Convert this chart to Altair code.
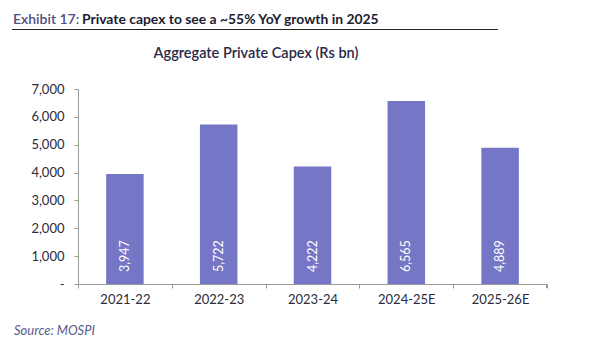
import altair as alt
import pandas as pd

years = ["2021-22", "2022-23", "2023-24", "2024-25E", "2025-26E"]
capex = [3947, 5722, 4222, 6565, 4889]
y_ticks = [0, 1000, 2000, 3000, 4000, 5000, 6000, 7000]

heading_prefix = "Exhibit 17:"
heading_text = "Private capex to see a ~55% YoY growth in 2025"
chart_title = "Aggregate Private Capex (Rs bn)"
source_text = "Source: MOSPI"

df = pd.DataFrame({"year": years, "capex": capex})

FONT = "Lato"
W, H = 469, 195

x_axis = alt.Axis(title=None, tickBand="extent", labelAngle=0,
                  domainColor="#9a9a9a", tickColor="#9a9a9a",
                  tickSize=4, labelFontSize=13, labelColor="#2b2b3b",
                  labelPadding=5, labelFont=FONT)
y_axis = alt.Axis(title=None, values=y_ticks, grid=False, labelOverlap=False,
                  labelExpr="datum.value == 0 ? '-' : format(datum.value, ',')",
                  domainColor="#9a9a9a", tickColor="#9a9a9a",
                  tickSize=4, labelFontSize=13, labelColor="#2b2b3b",
                  labelPadding=10, labelFont=FONT)
x_scale = alt.Scale(paddingInner=0, paddingOuter=0)
y_scale = alt.Scale(domain=[0, 7000], nice=False)

base = alt.Chart(df)

bars = base.mark_bar(color="#7676C6", width=alt.RelativeBandSize(0.4)).encode(
    x=alt.X("year:N", sort=years, scale=x_scale, axis=x_axis),
    y=alt.Y("capex:Q", scale=y_scale, axis=y_axis))

labels = base.mark_text(angle=270, align="left", baseline="middle", dx=12,
                        color="white", fontSize=12.5, font=FONT).encode(
    x=alt.X("year:N", sort=years, scale=x_scale, axis=x_axis),
    y=alt.YDatum(0, type="quantitative", scale=y_scale, axis=y_axis),
    text=alt.Text("capex:Q", format=","))

end_tick = alt.Chart(df).mark_rule(color="#9a9a9a").encode(
    x=alt.value(W), y=alt.value(H), y2=alt.value(H + 4))

head1 = alt.Chart(pd.DataFrame({"t": [heading_prefix]})).mark_text(
    align="left", baseline="alphabetic", fontSize=14, fontWeight=600,
    color="#4d4d80", font=FONT).encode(x=alt.value(13 - 78), y=alt.value(24 - 89), text="t:N")
head2 = alt.Chart(pd.DataFrame({"t": [heading_text]})).mark_text(
    align="left", baseline="alphabetic", fontSize=13.9, fontWeight="bold",
    color="#1c1c30", font=FONT).encode(x=alt.value(82 - 78), y=alt.value(24 - 89), text="t:N")
underline = alt.Chart(pd.DataFrame({"a": [0]})).mark_rule(color="#222222", strokeWidth=1).encode(
    x=alt.value(12 - 78), x2=alt.value(498 - 78), y=alt.value(29.5 - 89))
sub = alt.Chart(pd.DataFrame({"t": [chart_title]})).mark_text(
    align="center", baseline="middle", fontSize=14.5, fontWeight=600,
    color="#2a2a48", font=FONT).encode(x=alt.value(256 - 78), y=alt.value(54 - 89), text="t:N")
src = alt.Chart(pd.DataFrame({"t": [source_text]})).mark_text(
    align="left", baseline="middle", fontSize=13, fontStyle="italic",
    color="#5a5a8c", font=FONT).encode(x=alt.value(14 - 78), y=alt.value(331 - 89), text="t:N")

chart = alt.layer(bars, labels, end_tick, head1, head2, underline, sub, src).properties(
    width=W, height=H,
    background="white",
    autosize=alt.AutoSizeParams(type="none"),
    padding={"left": 78, "top": 89, "right": 45, "bottom": 64},
).configure_view(strokeWidth=0, stroke="transparent")

chart.save("out.html", embed_options={"renderer": "svg", "actions": False})
